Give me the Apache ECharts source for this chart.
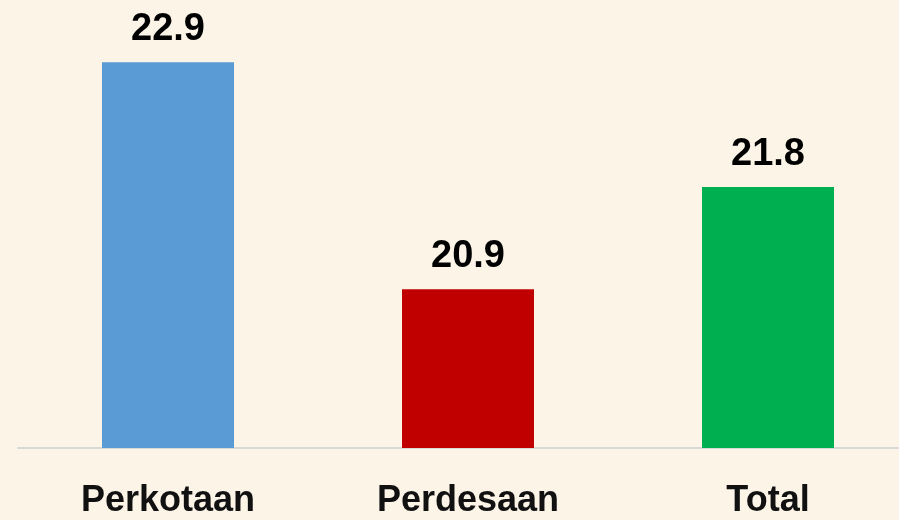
<!DOCTYPE html>
<html>
<head>
<meta charset="utf-8">
<script src="https://cdn.jsdelivr.net/npm/echarts@6/dist/echarts.min.js"></script>
<style>
html,body{margin:0;padding:0;background:#FBF4E7;}
#c{width:899px;height:520px;}
</style>
</head>
<body>
<div id="c"></div>
<script>
var categories = ['Perkotaan', 'Perdesaan', 'Total'];
var values = [22.9, 20.9, 21.8];
var barColors = ['#5B9BD5', '#C00000', '#00B050'];

var chart = echarts.init(document.getElementById('c'), null, {renderer: 'canvas'});
chart.setOption({
  backgroundColor: '#FBF4E7',
  animation: false,
  grid: {left: 18, right: -19, top: 51, bottom: 72, containLabel: false, outerBoundsMode: 'none'},
  xAxis: {
    type: 'category',
    data: categories,
    axisLine: {show: true, lineStyle: {color: '#D9D9D9', width: 2}},
    axisTick: {show: false},
    axisLabel: {
      color: '#111111',
      fontFamily: 'Liberation Sans, Arial, sans-serif',
      fontWeight: 'bold',
      fontSize: 36,
      margin: 35
    }
  },
  yAxis: {
    type: 'value',
    min: 19.5,
    max: 23,
    show: false,
    splitLine: {show: false}
  },
  series: [{
    type: 'bar',
    barWidth: 132,
    data: values.map(function (v, i) {
      return {value: v, itemStyle: {color: barColors[i]}};
    }),
    label: {
      show: true,
      position: 'top',
      distance: 14,
      color: '#000000',
      fontFamily: 'Liberation Sans, Arial, sans-serif',
      fontWeight: 'bold',
      fontSize: 38
    }
  }]
});
</script>
</body>
</html>
